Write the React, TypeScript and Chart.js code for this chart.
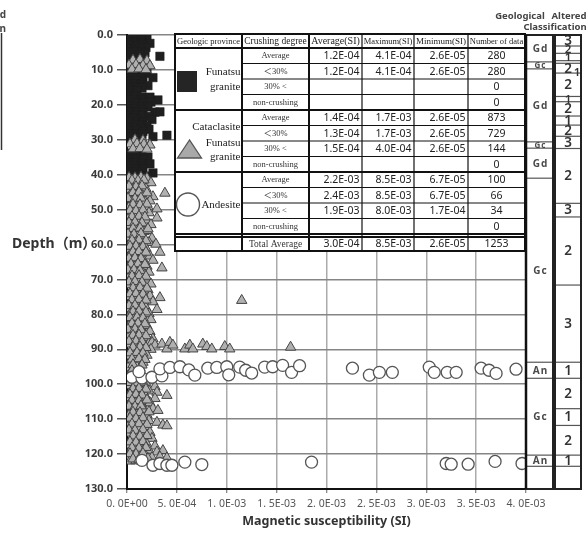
import React, { useEffect, useRef } from 'react';
import { Chart, registerables } from 'chart.js';

Chart.register(...registerables);

const SANS = "'Noto Sans', 'Noto Sans CJK JP', 'DejaVu Sans', sans-serif";
const SERIF = "'Liberation Serif', 'Noto Serif', 'Noto Sans CJK JP', serif";

// x values in units of 1E-4 SI, y values = depth (m)
const xTickLabels = ['0. 0E+00', '5. 0E-04', '1. 0E-03', '1. 5E-03', '2. 0E-03', '2. 5E-03', '3. 0E-03', '3. 5E-03', '4. 0E-03'];
const depthTickValues = [0, 10, 20, 30, 40, 50, 60, 70, 80, 90, 100, 110, 120, 130];
const depthTickLabels = ['0.0', '10.0', '20.0', '30.0', '40.0', '50.0', '60.0', '70.0', '80.0', '90.0', '100.0', '110.0', '120.0', '130.0'];

const funatsuGranitePoints: [number, number][] = [
  [0.2, 0.4], [0.8, 0.3], [1.4, 0.5], [2.0, 1.0],
  [0.3, 1.3], [0.9, 1.2], [1.5, 1.4],
  [0.2, 2.2], [0.8, 2.1], [1.4, 2.3], [2.3, 2.4],
  [0.4, 3.0], [1.0, 3.1], [1.6, 2.9], [1.9, 3.6],
  [0.2, 3.9], [0.8, 4.0], [1.3, 3.8],
  [0.3, 4.8], [0.9, 4.7], [1.5, 4.9], [1.8, 5.1],
  [0.2, 5.7], [0.8, 5.8], [1.3, 5.6], [3.3, 6.1],
  [0.4, 6.6], [1.0, 6.5], [1.7, 6.8],
  [0.3, 7.3], [0.9, 7.4],
  [0.2, 10.4], [0.8, 10.5], [1.4, 10.3], [2.0, 11.0],
  [0.3, 11.4], [0.9, 11.3], [1.5, 11.5], [2.6, 12.2],
  [0.2, 12.3], [0.8, 12.2], [1.4, 12.4],
  [0.4, 13.2], [1.0, 13.1], [1.6, 13.3],
  [0.2, 14.1], [0.8, 14.0], [1.4, 14.2], [2.1, 14.5],
  [0.3, 15.0], [0.9, 14.9], [1.5, 15.1],
  [0.4, 15.8], [1.0, 15.9],
  [0.3, 17.6], [0.9, 17.5], [1.5, 17.7], [2.3, 17.8],
  [0.2, 18.5], [0.8, 18.4], [1.4, 18.6], [3.1, 18.6],
  [0.4, 19.4], [1.0, 19.3], [1.6, 19.5], [2.4, 19.2],
  [0.3, 20.3], [0.9, 20.2], [1.5, 20.4], [2.1, 20.6],
  [0.2, 21.2], [0.8, 21.1], [1.4, 21.3],
  [0.4, 22.1], [1.0, 22.0], [1.6, 22.2], [2.8, 22.1], [3.3, 22.0],
  [0.3, 23.0], [0.9, 22.9], [1.5, 23.1], [2.2, 23.3],
  [0.2, 23.9], [0.8, 23.8], [1.4, 24.0], [2.5, 24.2],
  [0.4, 24.8], [1.0, 24.7], [1.6, 24.9],
  [0.3, 25.7], [0.9, 25.6], [1.5, 25.8], [2.0, 26.1],
  [0.2, 26.6], [0.8, 26.5], [1.4, 26.7], [2.2, 27.0],
  [0.4, 27.5], [1.0, 27.4], [1.6, 27.6],
  [0.3, 28.4], [0.9, 28.3], [1.5, 28.5], [4.0, 28.7], [2.6, 29.1],
  [0.5, 29.2], [1.1, 29.3],
  [0.3, 33.8], [0.9, 33.7], [1.5, 33.9],
  [0.2, 34.7], [0.8, 34.6], [1.4, 34.8], [2.1, 35.0],
  [0.4, 35.6], [1.0, 35.5], [1.6, 35.7],
  [0.3, 36.5], [0.9, 36.4], [1.5, 36.6], [2.3, 36.9],
  [0.2, 37.4], [0.8, 37.3], [1.4, 37.5],
  [0.4, 38.3], [1.0, 38.2], [1.6, 38.4],
  [0.3, 39.2], [0.9, 39.1], [1.5, 39.3], [2.6, 39.5],
  [0.5, 40.1], [1.1, 40.0], [2.0, 40.4],
];

const cataclasitePoints: [number, number][] = [
  [0.6, 7.2], [1.3, 7.0], [2.0, 7.4],
  [0.2, 8.6], [0.9, 8.5], [1.6, 8.7], [2.3, 8.8],
  [0.5, 9.8], [1.2, 9.7], [1.9, 9.9],
  [0.8, 30.0], [1.6, 30.2],
  [0.3, 31.2], [1.0, 31.1], [1.7, 31.3], [2.3, 31.5],
  [0.6, 32.6], [1.3, 32.5], [2.0, 32.7],
  [0.2, 40.8], [0.8, 40.9], [1.4, 40.7], [2.0, 41.0],
  [0.4, 42.5], [1.0, 42.4], [1.7, 42.6], [2.4, 42.3],
  [0.1, 44.2], [0.7, 44.1], [1.3, 44.3], [1.9, 44.0],
  [3.8, 45.3],
  [0.3, 46.0], [0.9, 45.9], [1.6, 46.1], [2.6, 46.3],
  [0.5, 47.7], [1.1, 47.6], [1.8, 47.8], [2.3, 47.5],
  [0.2, 49.4], [0.8, 49.3], [1.4, 49.5], [2.1, 49.2], [3.0, 49.8],
  [0.4, 51.1], [1.0, 51.0], [1.6, 51.2], [2.2, 50.9],
  [3.0, 52.4],
  [0.1, 52.8], [0.7, 52.9], [1.3, 52.7], [1.9, 53.0],
  [0.3, 54.5], [0.9, 54.4], [1.5, 54.6], [2.4, 54.3],
  [0.5, 56.2], [1.1, 56.1], [1.7, 56.3], [2.0, 56.0],
  [0.2, 57.9], [0.8, 57.8], [1.4, 58.0], [2.5, 58.2],
  [0.4, 59.6], [1.0, 59.5], [1.6, 59.7], [2.2, 59.4], [2.9, 59.9],
  [0.1, 61.3], [0.7, 61.2], [1.3, 61.4], [1.9, 61.1],
  [3.3, 62.2],
  [0.3, 63.0], [0.9, 62.9], [1.5, 63.1], [2.3, 63.3],
  [0.5, 64.7], [1.1, 64.6], [1.7, 64.8], [2.6, 64.5],
  [0.2, 66.4], [0.8, 66.3], [1.4, 66.5], [2.0, 66.2], [3.5, 66.7],
  [0.4, 68.1], [1.0, 68.0], [1.6, 68.2], [2.2, 67.9],
  [0.1, 69.8], [0.7, 69.7], [1.3, 69.9], [1.9, 69.6],
  [0.3, 71.5], [0.9, 71.4], [1.5, 71.6], [2.4, 71.3],
  [0.5, 73.2], [1.1, 73.1], [1.7, 73.3], [2.1, 73.0],
  [0.2, 74.9], [0.8, 74.8], [1.4, 75.0], [2.3, 74.7], [3.3, 75.2],
  [11.5, 76.0],
  [0.4, 76.6], [1.0, 76.5], [1.6, 76.7], [2.6, 76.4],
  [0.1, 78.3], [0.7, 78.2], [1.3, 78.4], [1.9, 78.1], [3.0, 78.6],
  [0.3, 80.0], [0.9, 79.9], [1.5, 80.1], [2.2, 79.8],
  [0.5, 81.7], [1.1, 81.6], [1.7, 81.8], [2.4, 81.5],
  [0.2, 83.4], [0.8, 83.3], [1.4, 83.5], [2.0, 83.2],
  [0.4, 85.1], [1.0, 85.0], [1.6, 85.2], [2.3, 84.9],
  [0.1, 86.8], [0.7, 86.7], [1.3, 86.9], [1.9, 86.6], [2.6, 87.0],
  [0.3, 88.5], [0.9, 88.4], [1.5, 88.6], [2.2, 88.3],
  [2.5, 88.0], [2.8, 88.8], [3.5, 88.5], [4.0, 89.9], [4.3, 88.0], [4.6, 88.8],
  [5.8, 89.9], [6.3, 88.8], [6.6, 89.9], [7.6, 88.5], [8.0, 89.2], [8.5, 89.9],
  [9.8, 89.2], [10.3, 89.9], [16.4, 89.4],
  [0.5, 90.2], [1.1, 90.1], [1.7, 90.3], [2.4, 90.0],
  [0.2, 91.9], [0.8, 91.8], [1.4, 92.0], [2.0, 91.7],
  [0.4, 93.6], [1.0, 93.5], [1.6, 93.7],
  [0.1, 95.3], [0.7, 95.2], [1.0, 95.0], [1.3, 95.4],
  [0.3, 97.0], [0.9, 96.9], [1.5, 97.1],
  [0.5, 98.7], [1.1, 98.6], [1.7, 98.8], [2.3, 98.5],
  [0.2, 100.4], [0.8, 100.3], [1.4, 100.5], [2.0, 100.2], [2.8, 100.7],
  [0.4, 102.1], [1.0, 102.0], [1.6, 102.2], [2.2, 101.9], [3.0, 102.3],
  [4.0, 103.2],
  [0.1, 103.8], [0.7, 103.7], [1.3, 103.9], [1.9, 103.6], [2.8, 104.1],
  [0.3, 105.5], [0.9, 105.4], [1.5, 105.6], [2.3, 105.3],
  [0.5, 107.2], [1.1, 107.1], [1.7, 107.3], [2.6, 107.0], [3.1, 107.5],
  [0.2, 108.9], [0.8, 108.8], [1.4, 109.0], [2.0, 108.7],
  [0.4, 110.6], [1.0, 110.5], [1.6, 110.7], [2.2, 110.4], [3.0, 110.9],
  [3.6, 111.7], [4.0, 111.9],
  [0.1, 112.3], [0.7, 112.2], [1.3, 112.4], [1.9, 112.1],
  [0.3, 114.0], [0.9, 113.9], [1.5, 114.1], [2.3, 113.8],
  [0.5, 115.7], [1.1, 115.6], [1.7, 115.8], [2.5, 115.5],
  [0.2, 117.4], [0.8, 117.3], [1.4, 117.5], [2.0, 117.2], [2.8, 117.7],
  [0.4, 119.1], [1.0, 119.0], [1.6, 119.2], [2.2, 118.9], [3.0, 119.4], [3.6, 119.0],
  [0.1, 120.8], [0.7, 120.7], [1.3, 120.9], [1.9, 120.6], [2.5, 121.0], [3.3, 120.8], [4.0, 121.1],
  [0.3, 122.0], [0.9, 121.9], [1.5, 122.1],
  [0.5, 41.6], [1.1, 41.7], [1.7, 41.5],
  [0.2, 43.3], [0.9, 43.4], [1.5, 43.2],
  [0.6, 45.1], [1.2, 45.0], [2.0, 45.2],
  [0.1, 46.8], [0.8, 46.9], [1.4, 46.7],
  [0.6, 48.5], [1.3, 48.6], [2.0, 48.4],
  [0.3, 50.2], [0.9, 50.3], [1.6, 50.1],
  [0.5, 52.0], [1.2, 51.9], [1.8, 52.1],
  [0.2, 53.7], [0.8, 53.6], [1.5, 53.8],
  [0.6, 55.4], [1.3, 55.3], [2.1, 55.5],
  [0.1, 57.0], [0.7, 57.1], [1.4, 56.9],
  [0.5, 58.8], [1.2, 58.7], [1.9, 58.9],
  [0.3, 60.5], [0.9, 60.4], [1.6, 60.6],
  [0.6, 62.1], [1.2, 62.0], [1.9, 62.2],
  [0.2, 63.9], [0.8, 63.8], [1.4, 64.0],
  [0.4, 65.6], [1.1, 65.5], [1.8, 65.7],
  [0.1, 67.3], [0.7, 67.2], [1.3, 67.4],
  [0.5, 69.0], [1.2, 68.9], [1.9, 69.1],
  [0.2, 70.7], [0.8, 70.6], [1.5, 70.8],
  [0.6, 72.4], [1.3, 72.3], [2.0, 72.5],
  [0.3, 74.1], [0.9, 74.0], [1.6, 74.2],
  [0.5, 75.8], [1.2, 75.7], [1.9, 75.9],
  [0.2, 77.5], [0.8, 77.4], [1.5, 77.6],
  [0.6, 79.2], [1.2, 79.1], [1.9, 79.3],
  [0.3, 80.9], [1.0, 80.8], [1.6, 81.0],
  [0.5, 82.6], [1.1, 82.5], [1.8, 82.7],
  [0.1, 84.3], [0.8, 84.2], [1.4, 84.4],
  [0.6, 86.0], [1.2, 85.9], [1.9, 86.1],
  [0.2, 87.7], [0.9, 87.6], [1.5, 87.8],
  [0.6, 89.4], [1.3, 89.3], [1.9, 89.5],
  [0.3, 91.0], [1.0, 90.9], [1.6, 91.1],
  [0.5, 92.8], [1.2, 92.7], [1.8, 92.9],
  [0.6, 94.4], [1.5, 94.5],
  [0.5, 96.1], [1.2, 96.0],
  [0.2, 99.5], [0.9, 99.6], [1.6, 99.4],
  [0.6, 101.3], [1.2, 101.2], [1.9, 101.4],
  [0.3, 103.0], [0.9, 102.9], [1.5, 103.1],
  [0.5, 104.6], [1.2, 104.7], [2.0, 104.5],
  [0.2, 106.3], [0.8, 106.4], [1.4, 106.2],
  [0.6, 108.0], [1.3, 108.1], [2.2, 107.9],
  [0.3, 109.7], [0.9, 109.8], [1.6, 109.6],
  [0.5, 111.4], [1.2, 111.3], [2.0, 111.5],
  [0.2, 113.1], [0.8, 113.2], [1.6, 113.0],
  [0.6, 114.8], [1.3, 114.9], [2.0, 114.7],
  [0.3, 116.5], [0.9, 116.6], [1.6, 116.4],
  [0.5, 118.2], [1.2, 118.3], [1.9, 118.1],
  [0.3, 119.9], [0.9, 120.0], [1.6, 119.8],
  [0.6, 121.4], [1.2, 121.5], [2.1, 121.3],
];

const andesitePoints: [number, number][] = [
  [0.5, 98.0], [1.5, 98.2], [2.5, 98.0], [3.5, 97.6], [1.2, 96.4],
  [3.3, 95.6], [4.3, 95.2], [5.3, 95.0], [6.2, 95.9], [6.8, 97.4],
  [8.1, 95.4], [9.0, 95.2], [10.0, 95.0], [10.2, 97.3], [11.3, 95.1],
  [11.9, 96.0], [12.5, 96.8], [13.8, 95.1], [14.6, 95.0], [15.6, 94.6],
  [16.5, 96.6], [17.3, 94.7], [22.6, 95.4], [24.3, 97.4], [25.3, 96.6],
  [26.6, 96.6], [30.3, 95.1], [30.8, 96.6], [32.1, 96.6], [33.0, 96.6],
  [35.5, 95.4], [36.3, 96.0], [37.0, 96.9], [39.0, 95.7],
  [1.5, 121.8], [2.6, 123.2], [3.3, 122.7], [4.0, 123.2], [4.5, 123.2],
  [5.8, 122.3], [7.5, 123.0], [18.5, 122.3], [32.0, 122.7], [32.5, 122.9],
  [34.2, 122.9], [36.9, 122.1], [39.6, 122.7],
];

const tableHeaders = ['Geologic province', 'Crushing degree', 'Average(SI)', 'Maximum(SI)', 'Minimum(SI)', 'Number of data'];
const crushingDegrees = ['Average', '\uFF1C30%', '30% <', 'non-crushing'];
const funatsuStats = [
  ['1.2E-04', '4.1E-04', '2.6E-05', '280'],
  ['1.2E-04', '4.1E-04', '2.6E-05', '280'],
  ['', '', '', '0'],
  ['', '', '', '0'],
];
const cataclasiteStats = [
  ['1.4E-04', '1.7E-03', '2.6E-05', '873'],
  ['1.3E-04', '1.7E-03', '2.6E-05', '729'],
  ['1.5E-04', '4.0E-04', '2.6E-05', '144'],
  ['', '', '', '0'],
];
const andesiteStats = [
  ['2.2E-03', '8.5E-03', '6.7E-05', '100'],
  ['2.4E-03', '8.5E-03', '6.7E-05', '66'],
  ['1.9E-03', '8.0E-03', '1.7E-04', '34'],
  ['', '', '', '0'],
];
const totalLabel = 'Total Average';
const totalStats = ['3.0E-04', '8.5E-03', '2.6E-05', '1253'];

const geoSegments: [number, number, string][] = [
  [0, 7.7, 'Gd'], [7.7, 9.7, 'Gc'], [9.7, 30.6, 'Gd'], [30.6, 32.4, 'Gc'], [32.4, 41.0, 'Gd'],
  [41.0, 93.7, 'Gc'], [93.7, 98.3, 'An'], [98.3, 120.3, 'Gc'], [120.3, 123.5, 'An'], [123.5, 130, ''],
];
const alteredSegments: [number, number, string][] = [
  [0, 3.15, '3'], [3.15, 5.25, '2'], [5.25, 7.35, '1'], [7.35, 8.1, ''], [8.1, 10.9, '2'],
  [10.9, 17.6, '2'], [17.6, 19.1, '1'], [19.1, 23.2, '2'], [23.2, 25.8, '1'], [25.8, 29.0, '2'],
  [29.0, 32.5, '3'], [32.5, 48.2, '2'], [48.2, 52.1, '3'], [52.1, 71.6, '2'], [71.6, 93.7, '3'],
  [93.7, 98.3, '1'], [98.3, 107.0, '2'], [107.0, 111.8, '1'], [111.8, 120.3, '2'], [120.3, 123.5, '1'],
  [123.5, 130, ''],
];
const alteredSideNotes: [number, string][] = [[10.6, '1']];

function setFont(ctx: CanvasRenderingContext2D, size: number, family: string, weight = 'normal') {
  ctx.font = `${weight} ${size}px ${family}`;
}
function fitText(ctx: CanvasRenderingContext2D, text: string, x: number, y: number, maxW: number, size: number, family: string, weight = 'normal') {
  let s = size;
  setFont(ctx, s, family, weight);
  while (ctx.measureText(text).width > maxW && s > 6) {
    s -= 0.25;
    setFont(ctx, s, family, weight);
  }
  ctx.fillText(text, x, y);
}
function seg(ctx: CanvasRenderingContext2D, x1: number, y1: number, x2: number, y2: number, w: number, color = '#111') {
  ctx.strokeStyle = color;
  ctx.lineWidth = w;
  ctx.beginPath();
  ctx.moveTo(x1, y1);
  ctx.lineTo(x2, y2);
  ctx.stroke();
}

function drawTable(ctx: CanvasRenderingContext2D) {
  const cx = [175, 242, 309, 362, 414, 468, 525];
  const top = 34, headBot = 48, rowH = 15.5, totTop = 237, totBot = 251;
  ctx.fillStyle = '#fff';
  ctx.fillRect(cx[0], top, cx[6] - cx[0], totBot - top);
  for (let i = 1; i < 12; i++) {
    if (i % 4 === 0) continue;
    const yy = headBot + i * rowH;
    seg(ctx, cx[1], yy, cx[6], yy, 1);
  }
  for (const g of [0, 4, 8, 12]) {
    const yy = headBot + g * rowH;
    seg(ctx, cx[0], yy, cx[6], yy, 2);
  }
  seg(ctx, cx[0], totTop, cx[6], totTop, 2);
  for (let i = 1; i < 6; i++) seg(ctx, cx[i], top, cx[i], totBot, i <= 2 ? 2 : 1.2);
  ctx.strokeStyle = '#111';
  ctx.lineWidth = 2;
  ctx.strokeRect(cx[0], top, cx[6] - cx[0], totBot - top);

  ctx.fillStyle = '#222';
  ctx.textBaseline = 'middle';
  ctx.textAlign = 'center';
  tableHeaders.forEach((h, i) => {
    fitText(ctx, h, (cx[i] + cx[i + 1]) / 2, (top + headBot) / 2 + 0.5, cx[i + 1] - cx[i] - 3, 10, SERIF);
  });

  const groups = [funatsuStats, cataclasiteStats, andesiteStats];
  groups.forEach((stats, g) => {
    stats.forEach((row, r) => {
      const cy = headBot + (g * 4 + r + 0.5) * rowH + 0.5;
      ctx.fillStyle = '#333';
      ctx.textAlign = 'center';
      fitText(ctx, crushingDegrees[r], (cx[1] + cx[2]) / 2, cy, cx[2] - cx[1] - 4, 8.5, SERIF);
      ctx.fillStyle = '#222';
      for (let c = 0; c < 3; c++) {
        if (!row[c]) continue;
        ctx.textAlign = 'right';
        setFont(ctx, 10.5, SANS);
        ctx.fillText(row[c], cx[c + 3] - 2.5, cy);
      }
      ctx.textAlign = 'center';
      setFont(ctx, 10.5, SANS);
      ctx.fillText(row[3], (cx[5] + cx[6]) / 2, cy);
    });
  });
  const ty = (totTop + totBot) / 2 + 0.5;
  ctx.fillStyle = '#333';
  ctx.textAlign = 'center';
  fitText(ctx, totalLabel, (cx[1] + cx[2]) / 2, ty, cx[2] - cx[1] - 4, 9.5, SERIF);
  ctx.fillStyle = '#222';
  for (let c = 0; c < 3; c++) {
    ctx.textAlign = 'right';
    setFont(ctx, 10.5, SANS);
    ctx.fillText(totalStats[c], cx[c + 3] - 2.5, ty);
  }
  ctx.textAlign = 'center';
  ctx.fillText(totalStats[3], (cx[5] + cx[6]) / 2, ty);

  const g0 = headBot, g1 = headBot + 4 * rowH, g2 = headBot + 8 * rowH;
  ctx.fillStyle = '#222';
  ctx.textAlign = 'right';
  setFont(ctx, 11, SERIF);
  ctx.fillText('Funatsu', cx[1] - 1.5, g0 + 24);
  ctx.fillText('granite', cx[1] - 1.5, g0 + 39);
  ctx.fillText('Cataclasite', cx[1] - 1.5, g1 + 17);
  ctx.fillText('Funatsu', cx[1] - 1.5, g1 + 33);
  ctx.fillText('granite', cx[1] - 1.5, g1 + 47);
  ctx.fillText('Andesite', cx[1] - 1.5, g2 + 33);

  ctx.fillStyle = '#252525';
  ctx.fillRect(177, g0 + 23, 20, 21);
  ctx.beginPath();
  ctx.moveTo(189.5, g1 + 30);
  ctx.lineTo(177.5, g1 + 48);
  ctx.lineTo(201.5, g1 + 48);
  ctx.closePath();
  ctx.fillStyle = '#a9a9a9';
  ctx.fill();
  ctx.strokeStyle = '#555';
  ctx.lineWidth = 1.3;
  ctx.stroke();
  ctx.beginPath();
  ctx.arc(188, g2 + 32.5, 11.5, 0, Math.PI * 2);
  ctx.fillStyle = '#fff';
  ctx.fill();
  ctx.strokeStyle = '#555';
  ctx.lineWidth = 1.4;
  ctx.stroke();
}

function drawColumns(ctx: CanvasRenderingContext2D, area: any, ys: any) {
  const geoL = area.right, geoR = area.right + 27, altL = area.right + 29, altR = area.right + 55;
  const top = area.top, bot = area.bottom;
  ctx.fillStyle = '#fff';
  ctx.fillRect(geoL, top, altR - geoL + 2, bot - top);
  ctx.textAlign = 'center';
  ctx.textBaseline = 'middle';
  const drawSegs = (segs: [number, number, string][], x0: number, x1: number, label: (t: string, x: number, y: number, h: number) => void) => {
    segs.forEach(([d0, d1, t]) => {
      const y0 = ys.getPixelForValue(d0);
      const y1 = ys.getPixelForValue(d1);
      if (d1 < 130) seg(ctx, x0, y1, x1, y1, 1.2, '#555');
      if (t) label(t, (x0 + x1) / 2, (y0 + y1) / 2, y1 - y0);
    });
  };
  drawSegs(geoSegments, geoL, geoR, (t, x, y, h) => {
    ctx.fillStyle = '#4a4a4a';
    setFont(ctx, h < 10 ? 8 : 10, SANS, 'bold');
    (ctx as any).letterSpacing = '1px';
    ctx.fillText(t, x + 1, y + 0.5);
    (ctx as any).letterSpacing = '0px';
  });
  drawSegs(alteredSegments, altL, altR, (t, x, y, h) => {
    ctx.fillStyle = '#333';
    setFont(ctx, h < 9 ? 11.5 : 13.5, SANS, '600');
    ctx.fillText(t, x, y + 0.5);
  });
  alteredSideNotes.forEach(([d, t]) => {
    ctx.fillStyle = '#333';
    setFont(ctx, 11.5, SANS, '600');
    ctx.fillText(t, altR - 4, ys.getPixelForValue(d) + 1);
  });
  ctx.strokeStyle = '#222';
  ctx.lineWidth = 2;
  ctx.strokeRect(geoL, top, geoR - geoL, bot - top);
  ctx.strokeRect(altL, top, altR - altL, bot - top);
  seg(ctx, area.right, top, area.right, bot, 2.5, '#111');
}

function drawTitles(ctx: CanvasRenderingContext2D, area: any) {
  ctx.fillStyle = '#333';
  ctx.textBaseline = 'middle';
  ctx.textAlign = 'left';
  setFont(ctx, 14, SANS, 'bold');
  ctx.fillText('Depth\uFF08m\uFF09', 12, 244);
  ctx.textAlign = 'center';
  setFont(ctx, 12.5, SANS, 'bold');
  ctx.fillText('Magnetic susceptibility (SI)', (area.left + area.right) / 2, 521);
  ctx.fillStyle = '#444';
  setFont(ctx, 9.5, SANS, 'bold');
  ctx.fillText('Geological', 520, 16);
  ctx.fillText('Altered', 569, 16);
  ctx.fillText('Classification', 555, 27);
  ctx.textAlign = 'right';
  setFont(ctx, 10, SANS, 'bold');
  ctx.fillText('d', 6, 15);
  ctx.fillText('n', 6, 29);
  seg(ctx, 1.5, 33, 1.5, 150, 1.5, '#333');
}

const overlayPlugin = {
  id: 'overlay',
  afterDraw(chart: any) {
    const ctx = chart.ctx as CanvasRenderingContext2D;
    ctx.save();
    drawColumns(ctx, chart.chartArea, chart.scales.y);
    drawTable(ctx);
    drawTitles(ctx, chart.chartArea);
    ctx.restore();
  },
};

const toXY = (pts: [number, number][]) => pts.map(([x, y]) => ({ x, y }));

export default function App() {
  const ref = useRef<HTMLCanvasElement>(null);
  useEffect(() => {
    const canvas = ref.current;
    if (!canvas) return;
    const chart = new Chart(canvas, {
      type: 'scatter',
      data: {
        datasets: [
          {
            label: 'Andesite',
            data: toXY(andesitePoints),
            pointStyle: 'circle',
            pointRadius: 6,
            backgroundColor: '#ffffff',
            borderColor: '#555555',
            borderWidth: 1.3,
          },
          {
            label: 'Cataclasite Funatsu granite',
            data: toXY(cataclasitePoints),
            pointStyle: 'triangle',
            pointRadius: 6,
            backgroundColor: '#b0b0b0',
            borderColor: '#444444',
            borderWidth: 1,
          },
          {
            label: 'Funatsu granite',
            data: toXY(funatsuGranitePoints),
            pointStyle: 'rect',
            pointRadius: 6,
            backgroundColor: '#1f1f1f',
            borderColor: '#1f1f1f',
            borderWidth: 0.5,
          },
        ],
      },
      options: {
        responsive: false,
        animation: false,
        events: [],
        layout: { padding: { left: 0, right: 62, top: 35, bottom: 0 } },
        plugins: { legend: { display: false }, tooltip: { enabled: false } },
        scales: {
          x: {
            type: 'linear',
            min: 0,
            max: 40,
            ticks: {
              stepSize: 5,
              autoSkip: false,
              maxRotation: 0,
              padding: 5,
              color: '#555',
              font: { family: SANS, size: 10.5 },
              callback: (_v: any, i: number) => xTickLabels[i],
            },
            grid: { color: '#ababab', lineWidth: 1.5, tickLength: 4, tickColor: '#666', tickWidth: 1 },
            border: { color: '#111', width: 2 },
            afterFit: (s: any) => { s.height = 46; },
          },
          y: {
            type: 'linear',
            reverse: true,
            min: 0,
            max: 130,
            ticks: {
              stepSize: 10,
              autoSkip: false,
              padding: 4,
              color: '#3a3a3a',
              font: { family: SANS, size: 11, weight: 'bold' },
              callback: (v: any) => depthTickLabels[depthTickValues.indexOf(Math.round(Number(v)))],
            },
            grid: { color: '#858585', lineWidth: 1.5, tickLength: 10, tickColor: '#555', tickWidth: 1.5 },
            border: { color: '#111', width: 2 },
            afterFit: (s: any) => { s.width = 127; },
          },
        },
      },
      plugins: [overlayPlugin],
    } as any);
    return () => chart.destroy();
  }, []);
  return (
    <div style={{ position: 'absolute', left: 0, top: 0, width: 588, height: 535, background: '#fff' }}>
      <canvas ref={ref} width={588} height={535} style={{ display: 'block', width: 588, height: 535 }} />
    </div>
  );
}
